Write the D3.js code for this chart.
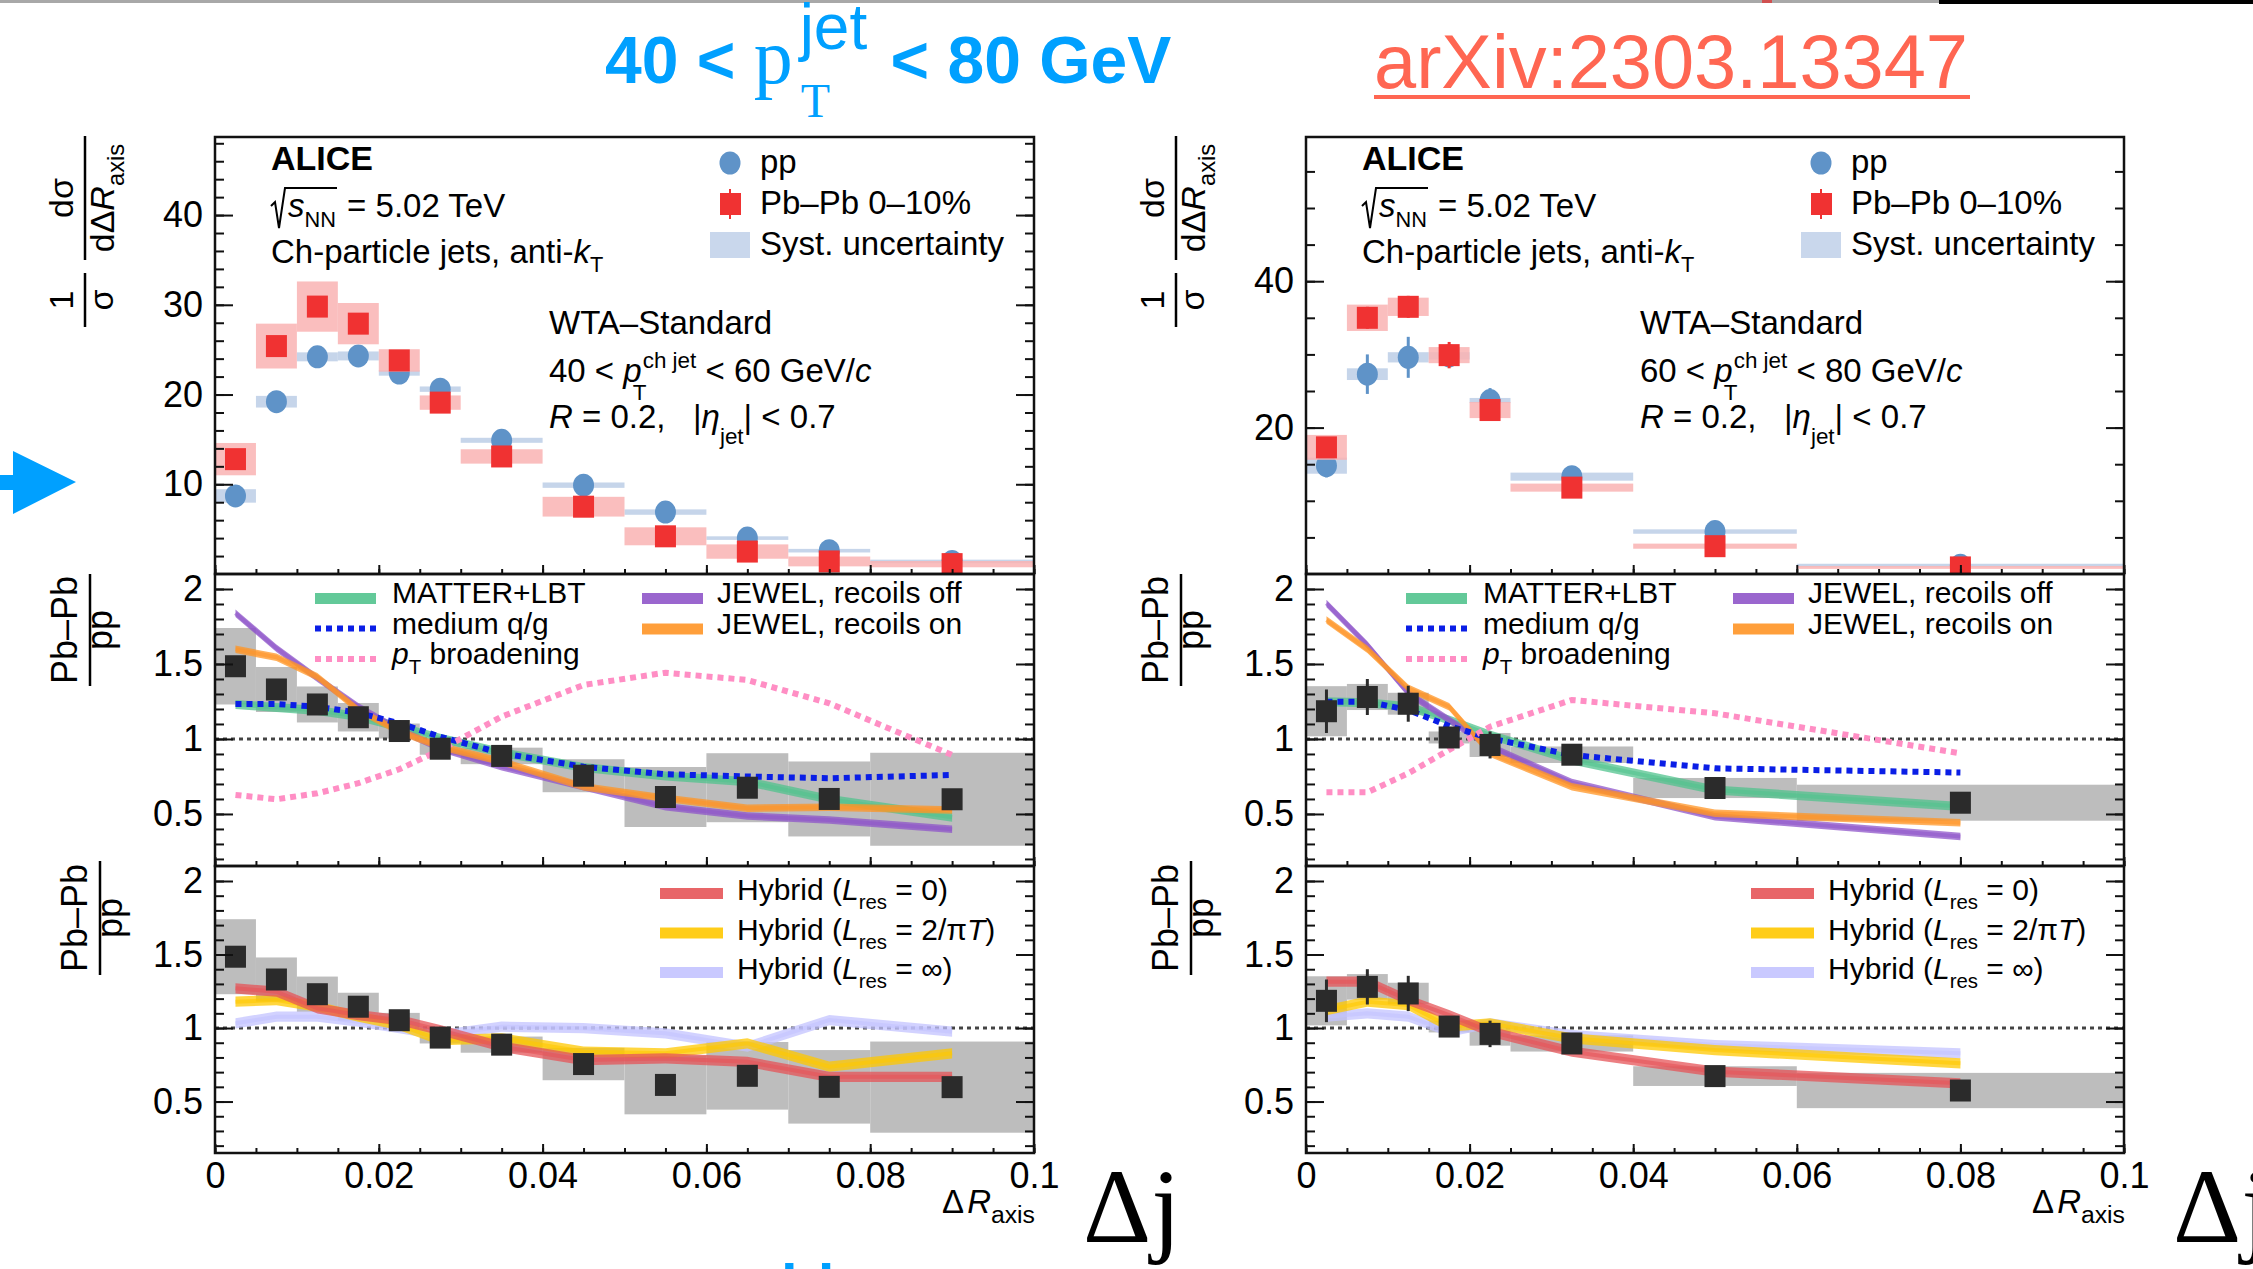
<!DOCTYPE html>
<html>
<head>
<meta charset="utf-8">
<script src="https://cdn.jsdelivr.net/npm/d3@7"></script>
<style>
  body { margin: 0; background: #fff; }
  svg { display: block; font-family: "Liberation Sans", Arial, Helvetica, sans-serif; }
  text { white-space: pre; }
</style>
</head>
<body>
<svg id="chart" width="2253" height="1269"></svg>
<script>
// ---- left: 40 < pT < 60 GeV/c ----
var edgesL = [0, 0.005, 0.01, 0.015, 0.02, 0.025, 0.03, 0.04, 0.05, 0.06, 0.07, 0.08, 0.1];
var centersL = [0.0025, 0.0075, 0.0125, 0.0175, 0.0225, 0.0275, 0.035, 0.045, 0.055, 0.065, 0.075, 0.09];
var ppL = [8.7, 19.2, 24.2, 24.3, 22.4, 20.6, 14.9, 9.9, 6.9, 4.0, 2.6, 1.4];
var ppStatL = [0.3, 0.4, 0.4, 0.4, 0.4, 0.3, 0.3, 0.2, 0.2, 0.2, 0.1, 0.1];
var ppSysL = [0.75, 0.65, 0.5, 0.5, 0.3, 0.3, 0.28, 0.3, 0.3, 0.2, 0.2, 0.2];
var pbL = [12.8, 25.4, 29.8, 27.9, 23.8, 19.1, 13.1, 7.5, 4.2, 2.5, 1.4, 1.1];
var pbStatL = [0.8, 1.0, 1.0, 1.0, 0.9, 0.7, 0.5, 0.4, 0.3, 0.2, 0.2, 0.1];
var pbSysL = [1.8, 2.5, 2.8, 2.3, 1.25, 0.8, 0.8, 1.1, 1.0, 0.8, 0.55, 0.35];
var ratioL = [1.485, 1.33, 1.23, 1.145, 1.053, 0.935, 0.887, 0.755, 0.613, 0.675, 0.60, 0.598];
var ratioStatL = [0.06, 0.05, 0.05, 0.05, 0.04, 0.04, 0.04, 0.04, 0.04, 0.05, 0.05, 0.05];
var ratioSysL = [0.255, 0.15, 0.12, 0.095, 0.05, 0.04, 0.055, 0.11, 0.2, 0.23, 0.25, 0.31];
var matterL = [1.23, 1.21, 1.19, 1.15, 1.08, 1.005, 0.91, 0.81, 0.753, 0.715, 0.598, 0.478];
var qgL = [1.233, 1.233, 1.215, 1.175, 1.105, 1.015, 0.905, 0.815, 0.765, 0.75, 0.738, 0.76];
var ptbL = [0.627, 0.598, 0.638, 0.705, 0.798, 0.927, 1.149, 1.36, 1.442, 1.393, 1.238, 0.893];
var jewOffL = [1.838, 1.605, 1.405, 1.215, 1.06, 0.938, 0.815, 0.682, 0.548, 0.487, 0.46, 0.398];
var jewOnL = [1.598, 1.545, 1.415, 1.193, 1.049, 0.949, 0.849, 0.682, 0.605, 0.538, 0.544, 0.527];
var hyb0L = [1.27, 1.247, 1.134, 1.088, 1.054, 0.986, 0.873, 0.782, 0.793, 0.77, 0.668, 0.668];
var hybPiL = [1.179, 1.19, 1.145, 1.077, 1.02, 0.918, 0.93, 0.839, 0.828, 0.896, 0.737, 0.828];
var hybInfL = [1.032, 1.077, 1.077, 1.043, 0.999, 0.952, 1.009, 0.999, 0.964, 0.873, 1.054, 0.975];

// ---- right: 60 < pT < 80 GeV/c ----
var edgesR = [0, 0.005, 0.01, 0.015, 0.02, 0.025, 0.04, 0.06, 0.1];
var centersR = [0.0025, 0.0075, 0.0125, 0.0175, 0.0225, 0.0325, 0.05, 0.08];
var ppR = [14.8, 27.3, 29.6, 29.8, 23.7, 13.3, 5.8, 1.2];
var ppStatR = [1.6, 2.7, 2.8, 1.2, 1.7, 0.4, 0.3, 0.2];
var ppSysR = [1.1, 0.8, 0.7, 0.5, 0.35, 0.55, 0.3, 0.2];
var pbR = [17.3, 35.0, 36.5, 29.9, 22.4, 11.8, 3.8, 0.9];
var pbStatR = [1.2, 1.5, 1.5, 1.8, 1.2, 0.6, 0.4, 0.3];
var pbSysR = [1.7, 1.8, 1.25, 1.1, 1.1, 0.55, 0.35, 0.2];
var ratioR = [1.185, 1.28, 1.235, 1.01, 0.96, 0.895, 0.673, 0.575];
var ratioStatR = [0.145, 0.12, 0.12, 0.07, 0.09, 0.04, 0.04, 0.05];
var ratioSysR = [0.167, 0.087, 0.073, 0.04, 0.08, 0.055, 0.067, 0.12];
var matterR = [1.249, 1.242, 1.215, 1.127, 1.027, 0.86, 0.66, 0.549];
var qgR = [1.249, 1.249, 1.193, 1.087, 1.004, 0.893, 0.804, 0.776];
var ptbR = [0.644, 0.644, 0.771, 0.927, 1.082, 1.26, 1.171, 0.904];
var jewOffR = [1.904, 1.627, 1.305, 1.127, 0.949, 0.709, 0.482, 0.349];
var jewOnR = [1.793, 1.598, 1.338, 1.215, 0.904, 0.682, 0.504, 0.442];
var hyb0R = [1.315, 1.315, 1.19, 1.088, 0.975, 0.839, 0.703, 0.624];
var hybPiR = [1.122, 1.179, 1.156, 1.009, 1.032, 0.93, 0.85, 0.76];
var hybInfR = [1.077, 1.10, 1.077, 0.975, 1.032, 0.952, 0.884, 0.828];

// tick labels
var xTickVals = [0, 0.02, 0.04, 0.06, 0.08, 0.1];
var ratioTickVals = [0.5, 1, 1.5, 2];
var topTickValsL = [10, 20, 30, 40];
var topTickValsR = [20, 40];
var ptRanges = [["40", "60"], ["60", "80"]];

var FONT = '"Liberation Sans", Arial, Helvetica, sans-serif';
var SERIF = '"Liberation Serif", "Times New Roman", serif';
var svg = d3.select("#chart");
var defs = svg.append("defs");
var fmt = d3.format("~g");

// draws a run of text pieces one after another (italic, sub/superscripts)
function rich(g, x, y, parts, size) {
	var cx = x;
	parts.forEach(function (p) {
		var fs = size * (p.s || 1);
		var t = g.append("text")
			.attr("x", cx + (p.dx || 0))
			.attr("y", y + (p.dy || 0))
			.attr("font-size", fs)
			.text(p.t);
		if (p.it) t.attr("font-style", "italic");
		if (p.b) t.attr("font-weight", "bold");
		if (p.fam) t.attr("font-family", p.fam);
		var w = t.node().getComputedTextLength();
		if (!p.stay) cx += w + (p.dx || 0);
	});
	return cx;
}
function richCentered(g, y, parts, size) {
	var sub = g.append("g");
	var end = rich(sub, 0, y, parts, size);
	sub.attr("transform", "translate(" + (-end / 2) + ",0)");
}

// top strip of the slide
svg.append("rect").attr("x", 0).attr("y", 0).attr("width", 1939).attr("height", 3).attr("fill", "#a8a8a8");
svg.append("rect").attr("x", 1939).attr("y", 0).attr("width", 314).attr("height", 4).attr("fill", "#000");
svg.append("rect").attr("x", 1762).attr("y", 0).attr("width", 10).attr("height", 3).attr("fill", "#d05050");

// title
var title = svg.append("g").attr("fill", "#00a0ff");
rich(title, 605, 83, [
	{t: "40 < ", b: true},
	{t: "p", fam: SERIF, s: 78 / 66},
	{t: "T", fam: SERIF, s: 48 / 66, dy: 34, dx: 8, stay: true},
	{t: "jet", s: 64 / 66, dy: -34, dx: 7},
	{t: " < 80 GeV", b: true, dx: 5}
], 66);

svg.append("text").attr("x", 1374).attr("y", 88).attr("font-size", 76)
	.attr("fill", "#ff6652").attr("textLength", 594).attr("lengthAdjust", "spacingAndGlyphs")
	.text("arXiv:2303.13347");
svg.append("rect").attr("x", 1374).attr("y", 95).attr("width", 596).attr("height", 4).attr("fill", "#ff6652");

// blue arrow
svg.append("path")
	.attr("d", "M0,475 L13,475 L13,451 L76,482 L13,514 L13,490 L0,490 Z")
	.attr("fill", "#00a0ff");

// cut off blue letters at the bottom
svg.append("text").attr("x", 781).attr("y", 1306).attr("font-size", 60).attr("font-weight", "bold")
	.attr("fill", "#00a0ff").text("ld");

var sides = [
	{x0: 215, x1: 1034, edges: edgesL, cx: centersL, pp: ppL, ppStat: ppStatL, ppSys: ppSysL,
	 pb: pbL, pbStat: pbStatL, pbSys: pbSysL, ratio: ratioL, rStat: ratioStatL, rSys: ratioSysL,
	 topMax: 48.7, topTicks: topTickValsL, topMinor: 2, pt: ptRanges[0],
	 mid: [matterL, jewOffL, jewOnL, qgL, ptbL], bot: [hybInfL, hybPiL, hyb0L]},
	{x0: 1306, x1: 2124, edges: edgesR, cx: centersR, pp: ppR, ppStat: ppStatR, ppSys: ppSysR,
	 pb: pbR, pbStat: pbStatR, pbSys: pbSysR, ratio: ratioR, rStat: ratioStatR, rSys: ratioSysR,
	 topMax: 59.7, topTicks: topTickValsR, topMinor: 5, pt: ptRanges[1],
	 mid: [matterR, jewOffR, jewOnR, qgR, ptbR], bot: [hybInfR, hybPiR, hyb0R]}
];

var midStyles = [
	{color: "#52c38e", band: 0.03},
	{color: "#8f55c9", band: 0.025},
	{color: "#ff9526", band: 0.025},
	{color: "#0a1ee6", dash: "6,5"},
	{color: "#ff8ec4", dash: "6,5"}
];
var botStyles = [
	{color: "#c3c3ff", band: 0.035},
	{color: "#ffc800", band: 0.035},
	{color: "#e65458", band: 0.035}
];

var clipN = 0;
function clipTo(g, x, y) {
	var id = "clip" + (clipN++);
	defs.append("clipPath").attr("id", id).append("rect")
		.attr("x", x.range()[0]).attr("y", y.range()[1])
		.attr("width", x.range()[1] - x.range()[0]).attr("height", y.range()[0] - y.range()[1]);
	return g.append("g").attr("clip-path", "url(#" + id + ")");
}

function tickStyle(sel) {
	sel.select(".domain").remove();
	sel.selectAll("line").attr("stroke", "#111").attr("stroke-width", 2);
	sel.selectAll("text").attr("font-size", 36).attr("font-family", FONT).attr("fill", "#000");
}

function frameAxes(g, x, y, yMajor, yMinor, xLabels) {
	var x0 = x.range()[0], x1 = x.range()[1];
	var yb = y.range()[0], yt = y.range()[1];
	var xMinor = d3.range(0, 21).map(function (i) { return i * 0.005; });
	g.append("g").attr("transform", "translate(" + x0 + ",0)")
		.call(d3.axisLeft(y).tickValues(yMajor).tickSize(-18).tickPadding(12).tickFormat(fmt)).call(tickStyle);
	g.append("g").attr("transform", "translate(" + x0 + ",0)")
		.call(d3.axisLeft(y).tickValues(yMinor).tickSize(-9).tickFormat("")).call(tickStyle);
	g.append("g").attr("transform", "translate(" + x1 + ",0)")
		.call(d3.axisRight(y).tickValues(yMajor).tickSize(-18).tickFormat("")).call(tickStyle);
	g.append("g").attr("transform", "translate(" + x1 + ",0)")
		.call(d3.axisRight(y).tickValues(yMinor).tickSize(-9).tickFormat("")).call(tickStyle);
	g.append("g").attr("transform", "translate(0," + yb + ")")
		.call(d3.axisBottom(x).tickValues(xTickVals).tickSize(-9).tickPadding(9).tickFormat(xLabels ? fmt : "")).call(tickStyle);
	g.append("g").attr("transform", "translate(0," + yb + ")")
		.call(d3.axisBottom(x).tickValues(xMinor).tickSize(-5).tickFormat("")).call(tickStyle);
	g.append("rect").attr("x", x0).attr("y", yt).attr("width", x1 - x0).attr("height", yb - yt)
		.attr("fill", "none").attr("stroke", "#111").attr("stroke-width", 2.5);
}

function sysBoxes(g, x, y, s, vals, errs, color, op) {
	g.selectAll(null).data(vals).enter().append("rect")
		.attr("x", function (d, i) { return x(s.edges[i]); })
		.attr("width", function (d, i) { return x(s.edges[i + 1]) - x(s.edges[i]); })
		.attr("y", function (d, i) { return y(d + errs[i]); })
		.attr("height", function (d, i) { return y(d - errs[i]) - y(d + errs[i]); })
		.attr("fill", color).attr("opacity", op);
}
function statBars(g, x, y, s, vals, errs, color) {
	g.selectAll(null).data(vals).enter().append("line")
		.attr("x1", function (d, i) { return x(s.cx[i]); })
		.attr("x2", function (d, i) { return x(s.cx[i]); })
		.attr("y1", function (d, i) { return y(d + errs[i]); })
		.attr("y2", function (d, i) { return y(d - errs[i]); })
		.attr("stroke", color).attr("stroke-width", 3);
}
function squares(g, x, y, s, vals, color) {
	g.selectAll(null).data(vals).enter().append("rect")
		.attr("x", function (d, i) { return x(s.cx[i]) - 10.5; })
		.attr("y", function (d) { return y(d) - 11; })
		.attr("width", 21).attr("height", 22).attr("fill", color);
}

function drawModels(g, x, y, s, series, styles) {
	series.forEach(function (vals, k) {
		var st = styles[k];
		var pts = vals.map(function (v, i) { return [s.cx[i], v]; });
		var line = d3.line().x(function (d) { return x(d[0]); }).y(function (d) { return y(d[1]); });
		if (st.band) {
			var area = d3.area()
				.x(function (d) { return x(d[0]); })
				.y0(function (d) { return y(d[1] - st.band); })
				.y1(function (d) { return y(d[1] + st.band); });
			g.append("path").attr("d", area(pts)).attr("fill", st.color).attr("opacity", 0.75);
			g.append("path").attr("d", line(pts))
				.attr("fill", "none").attr("stroke", st.color).attr("stroke-width", 4).attr("opacity", 0.6);
		} else {
			g.append("path").attr("d", line(pts))
				.attr("fill", "none").attr("stroke", st.color).attr("stroke-width", 6).attr("stroke-dasharray", st.dash);
		}
	});
}

function fraction(g, cx, cy, num, den, half, vNum, vDen, size) {
	var f = g.append("g").attr("transform", "translate(" + cx + "," + cy + ") rotate(-90)");
	richCentered(f, vNum, num, size);
	richCentered(f, vDen, den, size);
	f.append("line").attr("x1", -half).attr("x2", half).attr("y1", 0).attr("y2", 0)
		.attr("stroke", "#000").attr("stroke-width", 2.5);
}

sides.forEach(function (s) {
	var g = svg.append("g");
	var off = s.x0;
	var x = d3.scaleLinear().domain([0, 0.1]).range([s.x0, s.x1]);
	var yT = d3.scaleLinear().domain([0, s.topMax]).range([574, 137]);
	var yM = d3.scaleLinear().domain([0.153, 2.1]).range([866, 574]);
	var yB = d3.scaleLinear().domain([0.15, 2.102]).range([1153, 866]);
	var ratioMinor = d3.range(2, 21).map(function (i) { return i / 10; });

	// ---------- top panel ----------
	var cT = clipTo(g, x, yT);
	sysBoxes(cT, x, yT, s, s.pp, s.ppSys, "#c6d5ea", 1);
	statBars(cT, x, yT, s, s.pp, s.ppStat, "#5f93c8");
	cT.selectAll(null).data(s.pp).enter().append("ellipse")
		.attr("cx", function (d, i) { return x(s.cx[i]); })
		.attr("cy", function (d) { return yT(d); })
		.attr("rx", 10.5).attr("ry", 11.5).attr("fill", "#5f93c8");
	sysBoxes(cT, x, yT, s, s.pb, s.pbSys, "#f9b3b3", 0.85);
	statBars(cT, x, yT, s, s.pb, s.pbStat, "#f03232");
	squares(cT, x, yT, s, s.pb, "#f03232");
	frameAxes(g, x, yT, s.topTicks, d3.range(s.topMinor, s.topMax, s.topMinor), false);

	// texts of the top panel
	rich(g, off + 56, 170, [{t: "ALICE", b: true}], 34);
	g.append("path")
		.attr("d", "M" + (off + 56) + ",206 L" + (off + 60) + ",202 L" + (off + 64) + ",228 L" + (off + 70) + ",188 L" + (off + 122) + ",188")
		.attr("fill", "none").attr("stroke", "#000").attr("stroke-width", 2);
	rich(g, off + 73, 217, [{t: "s", it: true}, {t: "NN", s: 0.66, dy: 10}, {t: " = 5.02 TeV", dx: 2}], 33);
	rich(g, off + 56, 263, [{t: "Ch-particle jets, anti-"}, {t: "k", it: true}, {t: "T", s: 0.66, dy: 9}], 33);

	g.append("ellipse").attr("cx", off + 515).attr("cy", 163).attr("rx", 10.5).attr("ry", 11.5).attr("fill", "#5f93c8");
	g.append("line").attr("x1", off + 515).attr("x2", off + 515).attr("y1", 189).attr("y2", 219)
		.attr("stroke", "#f03232").attr("stroke-width", 2);
	g.append("rect").attr("x", off + 505).attr("y", 193).attr("width", 21).attr("height", 22).attr("fill", "#f03232");
	g.append("rect").attr("x", off + 495).attr("y", 232).attr("width", 40).attr("height", 26).attr("fill", "#c9d7ec");
	rich(g, off + 545, 173, [{t: "pp"}], 33);
	rich(g, off + 545, 214, [{t: "Pb\u2013Pb 0\u201310%"}], 33);
	rich(g, off + 545, 255, [{t: "Syst. uncertainty"}], 33);

	rich(g, off + 334, 334, [{t: "WTA\u2013Standard"}], 33);
	rich(g, off + 334, 382, [
		{t: s.pt[0] + " < "}, {t: "p", it: true},
		{t: "T", s: 0.68, dy: 18, dx: -9, stay: true},
		{t: "ch jet", s: 0.68, dy: -14, dx: 1},
		{t: " < " + s.pt[1] + " GeV/"}, {t: "c", it: true}
	], 33);
	rich(g, off + 334, 428, [
		{t: "R", it: true}, {t: " = 0.2,   |"}, {t: "\u03b7", it: true},
		{t: "jet", s: 0.68, dy: 16}, {t: "| < 0.7"}
	], 33);

	// top y title
	fraction(g, off - 130, 300, [{t: "1"}], [{t: "\u03c3"}], 27, -12, 28, 34);
	fraction(g, off - 130, 198, [{t: "d\u03c3"}],
		[{t: "d\u0394"}, {t: "R", it: true}, {t: "axis", s: 0.7, dy: 10}], 62, -12, 29, 34);

	// ---------- middle panel ----------
	var cM = clipTo(g, x, yM);
	sysBoxes(cM, x, yM, s, s.ratio, s.rSys, "#bdbdbd", 1);
	cM.append("line").attr("x1", s.x0).attr("x2", s.x1).attr("y1", yM(1)).attr("y2", yM(1))
		.attr("stroke", "#444").attr("stroke-width", 3).attr("stroke-dasharray", "4,4");
	drawModels(cM, x, yM, s, s.mid, midStyles);
	statBars(cM, x, yM, s, s.ratio, s.rStat, "#2b2b2b");
	squares(cM, x, yM, s, s.ratio, "#2b2b2b");
	frameAxes(g, x, yM, ratioTickVals, ratioMinor, false);

	var midLabels = [
		[{t: "MATTER+LBT"}],
		[{t: "JEWEL, recoils off"}],
		[{t: "JEWEL, recoils on"}],
		[{t: "medium q/g"}],
		[{t: "p", it: true}, {t: "T", s: 0.68, dy: 10}, {t: " broadening"}]
	];
	var midPos = [[0, 0], [1, 0], [1, 1], [0, 1], [0, 2]];
	midPos.forEach(function (p, k) {
		var st = midStyles[k];
		var base = 603 + p[1] * 30.5;
		var sx = off + (p[0] ? 427 : 100), tx = off + (p[0] ? 502 : 177);
		if (st.band) {
			g.append("rect").attr("x", sx).attr("y", base - 10).attr("width", 61).attr("height", 11)
				.attr("fill", st.color).attr("opacity", 0.9);
		} else {
			g.append("line").attr("x1", sx).attr("x2", sx + 61).attr("y1", base - 5).attr("y2", base - 5)
				.attr("stroke", st.color).attr("stroke-width", 6).attr("stroke-dasharray", st.dash);
		}
		rich(g, tx, base, midLabels[k], 30);
	});

	fraction(g, off - 125, 630, [{t: "Pb\u2013Pb"}], [{t: "pp"}], 56, -13, 22, 36);

	// ---------- bottom panel ----------
	var cB = clipTo(g, x, yB);
	sysBoxes(cB, x, yB, s, s.ratio, s.rSys, "#bdbdbd", 1);
	cB.append("line").attr("x1", s.x0).attr("x2", s.x1).attr("y1", yB(1)).attr("y2", yB(1))
		.attr("stroke", "#444").attr("stroke-width", 3).attr("stroke-dasharray", "4,4");
	drawModels(cB, x, yB, s, s.bot, botStyles);
	statBars(cB, x, yB, s, s.ratio, s.rStat, "#2b2b2b");
	squares(cB, x, yB, s, s.ratio, "#2b2b2b");
	frameAxes(g, x, yB, ratioTickVals, ratioMinor, true);

	var botLabels = [
		{k: 2, tail: " = 0)", it: null},
		{k: 1, tail: " = 2/\u03c0", it: "T"},
		{k: 0, tail: " = \u221e)", it: null}
	];
	botLabels.forEach(function (b, r) {
		var base = 900 + r * 39.5;
		g.append("rect").attr("x", off + 445).attr("y", base - 12).attr("width", 63).attr("height", 11)
			.attr("fill", botStyles[b.k].color).attr("opacity", 0.9);
		var parts = [{t: "Hybrid ("}, {t: "L", it: true}, {t: "res", s: 0.68, dy: 9}, {t: b.tail}];
		if (b.it) { parts.push({t: b.it, it: true}); parts.push({t: ")"}); }
		rich(g, off + 522, base, parts, 30);
	});

	fraction(g, off - 115, 918, [{t: "Pb\u2013Pb"}], [{t: "pp"}], 57, -13, 22, 36);

	// x axis title, right aligned to the frame
	var xt = g.append("g");
	var w = rich(xt, 0, 1213, [{t: "\u0394"}, {t: "R", it: true, dx: 3}, {t: "axis", s: 0.75, dy: 10}], 33);
	xt.attr("transform", "translate(" + (s.x1 + 1 - w) + ",0)");

	g.append("text").attr("x", s.x1 + 49).attr("y", 1242).attr("font-family", SERIF)
		.attr("font-size", 106).text("\u0394j");
});
</script>
</body>
</html>
